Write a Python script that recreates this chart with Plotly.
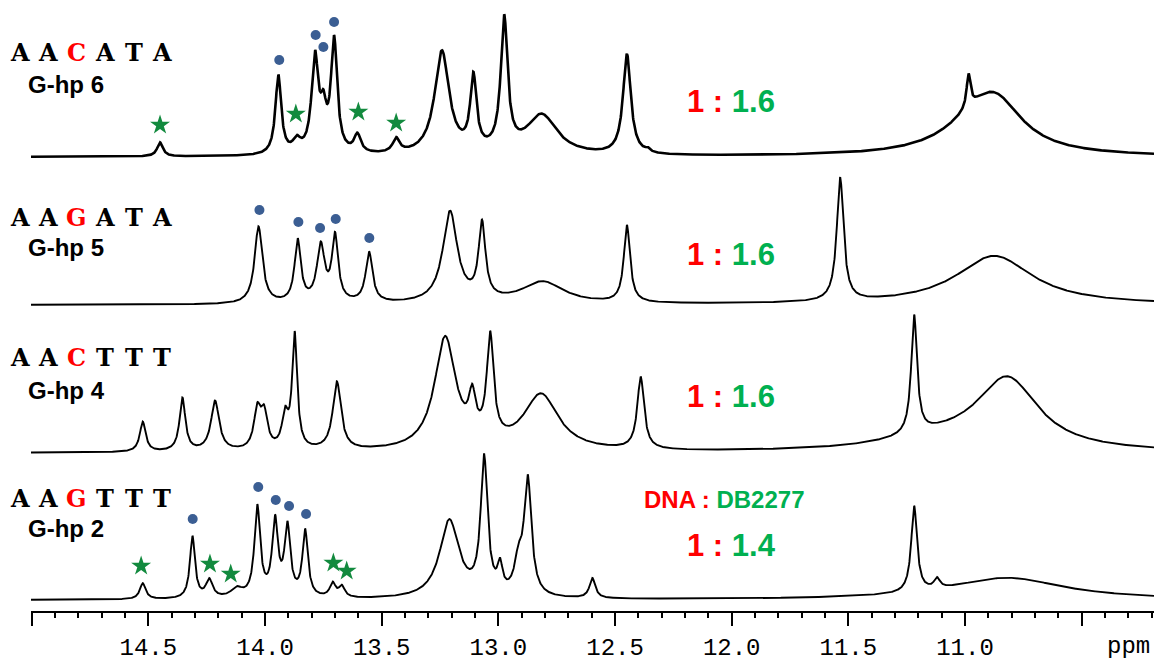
import numpy as np
import plotly.graph_objects as go

# ---------------- data ----------------
sample_names = ["G-hp 6", "G-hp 5", "G-hp 4", "G-hp 2"]
sequences = ["AACATA", "AAGATA", "AACTTT", "AAGTTT"]
site_index = 2
ratio_dna = "1"
ratio_ligand = ["1.6", "1.6", "1.6", "1.4"]
ppm_ticks = [15.0, 14.5, 14.0, 13.5, 13.0, 12.5, 12.0, 11.5, 11.0, 10.5]
ppm_tick_text = ["", "14.5", "14.0", "13.5", "13.0", "12.5", "12.0", "11.5", "11.0", ""]

# peak tables: position (ppm), height (a.u.), line width FWHM (ppm)
ghp6_ppm = [14.450, 13.943, 13.864, 13.786, 13.750, 13.704, 13.604, 13.438, 13.242, 13.107,
            12.975, 12.814, 12.449, 12.360, 10.930, 10.860, 10.985]
ghp6_height = [14, 79, 12, 95, 35, 112, 18, 14, 103, 72, 131, 40, 100, 3, 38, 30, 33]
ghp6_width = [0.030, 0.030, 0.040, 0.035, 0.030, 0.032, 0.035, 0.035, 0.075, 0.032,
              0.035, 0.160, 0.040, 0.020, 0.360, 0.260, 0.020]

ghp5_ppm = [14.028, 13.860, 13.761, 13.700, 13.554, 13.207, 13.070, 12.810, 12.449, 11.535, 10.875]
ghp5_height = [77, 62, 56, 65, 50, 91, 75, 22, 77, 123, 49]
ghp5_width = [0.040, 0.032, 0.040, 0.032, 0.035, 0.075, 0.035, 0.220, 0.032, 0.035, 0.400]

ghp4_ppm = [14.524, 14.354, 14.214, 14.033, 14.004, 13.914, 13.873, 13.692, 13.228, 13.112,
            13.035, 12.817, 12.390, 11.218, 10.818, 11.100]
ghp4_height = [30, 53, 50, 38, 34, 32, 114, 68, 112, 38, 103, 56, 72, 118, 70, 12]
ghp4_width = [0.030, 0.030, 0.042, 0.035, 0.035, 0.032, 0.026, 0.042, 0.110, 0.035,
              0.035, 0.180, 0.035, 0.030, 0.320, 0.600]

ghp2_ppm = [14.524, 14.311, 14.239, 14.121, 14.033, 13.957, 13.904, 13.828, 13.710, 13.671,
            13.210, 13.061, 12.993, 12.914, 12.874, 12.597, 11.218, 11.120, 10.820]
ghp2_height = [16, 62, 18, 9, 90, 75, 69, 66, 14, 11, 78, 135, 25, 30, 116, 20, 86, 10, 22]
ghp2_width = [0.030, 0.026, 0.035, 0.060, 0.030, 0.030, 0.030, 0.028, 0.030, 0.030,
              0.100, 0.035, 0.025, 0.040, 0.038, 0.030, 0.030, 0.030, 0.600]

# assigned imino peaks: blue dots / green stars (ppm, height above baseline)
ghp6_dot_ppm = [13.939, 13.783, 13.750, 13.704]
ghp6_dot_h = [97, 122, 110, 135]
ghp6_star_ppm = [14.450, 13.868, 13.600, 13.438]
ghp6_star_h = [32, 43, 45, 34]
ghp5_dot_ppm = [14.024, 13.857, 13.764, 13.697, 13.553]
ghp5_dot_h = [95, 83, 77, 86, 67]
ghp5_star_ppm = []
ghp5_star_h = []
ghp4_dot_ppm = []
ghp4_dot_h = []
ghp4_star_ppm = []
ghp4_star_h = []
ghp2_dot_ppm = [14.310, 14.029, 13.954, 13.897, 13.824]
ghp2_dot_h = [81, 113, 100, 94, 86]
ghp2_star_ppm = [14.531, 14.236, 14.147, 13.707, 13.650]
ghp2_star_h = [34, 36, 26, 37, 29]

spectra = [
    (ghp6_ppm, ghp6_height, ghp6_width, ghp6_dot_ppm, ghp6_dot_h, ghp6_star_ppm, ghp6_star_h),
    (ghp5_ppm, ghp5_height, ghp5_width, ghp5_dot_ppm, ghp5_dot_h, ghp5_star_ppm, ghp5_star_h),
    (ghp4_ppm, ghp4_height, ghp4_width, ghp4_dot_ppm, ghp4_dot_h, ghp4_star_ppm, ghp4_star_h),
    (ghp2_ppm, ghp2_height, ghp2_width, ghp2_dot_ppm, ghp2_dot_h, ghp2_star_ppm, ghp2_star_h),
]

# ---------------- layout constants ----------------
W, H = 1157, 662
ML, MR, MT, MB = 31, 3, 0, 51
PW, PH = W - ML - MR, H - MT - MB
X_RANGE = [15.003, 10.19]
baselines = [454, 306, 158, 11]
line_widths = [2.6, 1.9, 1.9, 1.9]
RED, GREEN = "#ff0000", "#00b050"
DOT, STAR = "#3b5e93", "#128a3e"

ppm_axis = np.linspace(X_RANGE[0], X_RANGE[1], 4000)


def lorentz_sum(pos, hgt, wid):
    y = np.zeros_like(ppm_axis)
    for p, h, w in zip(pos, hgt, wid):
        y += h / (1.0 + ((ppm_axis - p) / (w / 2.0)) ** 2)
    return y


fig = go.Figure()
for i, (pos, hgt, wid, dp, dh, sp, sh) in enumerate(spectra):
    base = baselines[i]
    fig.add_trace(go.Scatter(x=ppm_axis, y=base + lorentz_sum(pos, hgt, wid), mode="lines",
                             line=dict(color="black", width=line_widths[i]),
                             hoverinfo="skip", showlegend=False))
    if dp:
        fig.add_trace(go.Scatter(x=dp, y=[base + v for v in dh], mode="markers",
                                 marker=dict(symbol="circle", size=10, color=DOT),
                                 hoverinfo="skip", showlegend=False))
    if sp:
        fig.add_trace(go.Scatter(x=sp, y=[base + v for v in sh], mode="markers",
                                 marker=dict(symbol="star", size=15, color=STAR),
                                 hoverinfo="skip", showlegend=False))


def px_to_paper(px, py):
    return (px - ML) / PW, (MT + PH - py) / PH


annotations = []


def add_text(text, px, py, size, color="black", family="Liberation Sans", xanchor="center"):
    x, y = px_to_paper(px, py)
    annotations.append(dict(text=text, x=x, y=y, xref="paper", yref="paper",
                            xanchor=xanchor, yanchor="middle", showarrow=False,
                            font=dict(size=size, color=color, family=family)))


letter_y = [52, 217.5, 358, 498]
name_y = [84, 247.5, 390.5, 528]
ratio_y = [101, 254, 396, 545.5]
for i, seq in enumerate(sequences):
    for j, ch in enumerate(seq):
        add_text("<b>%s</b>" % ch, 20 + 28.4 * j, letter_y[i], 24,
                 color=RED if j == site_index else "black", family="DejaVu Serif")
    add_text("<b>%s</b>" % sample_names[i], 26, name_y[i], 24, xanchor="left")
    add_text("<b><span style='color:%s'>%s :</span> <span style='color:%s'>%s</span></b>"
             % (RED, ratio_dna, GREEN, ratio_ligand[i]), 731, ratio_y[i], 31)

add_text("<b><span style='color:%s'>DNA :</span> <span style='color:%s'>DB2277</span></b>"
         % (RED, GREEN), 724, 499, 24)
add_text("ppm", 1128, 646, 24, family="Liberation Mono")

fig.update_layout(
    width=W, height=H, template="none",
    margin=dict(l=ML, r=MR, t=MT, b=MB, pad=0),
    paper_bgcolor="white", plot_bgcolor="white",
    annotations=annotations, showlegend=False,
    xaxis=dict(range=X_RANGE, showgrid=False, zeroline=False, showline=True,
               linecolor="black", linewidth=2, ticks="outside", ticklen=13, tickwidth=2,
               tickcolor="black", tickvals=ppm_ticks, ticktext=ppm_tick_text,
               tickfont=dict(family="Liberation Mono", size=24, color="black"),
               minor=dict(tick0=15.0, dtick=0.1, ticks="outside", ticklen=5, tickwidth=2,
                          tickcolor="black", showgrid=False),
               fixedrange=True),
    yaxis=dict(range=[0, PH], visible=False, fixedrange=True),
)

fig.write_html("out.html", config={"displayModeBar": False},
               post_script="document.body.style.margin='0';"
                           "document.body.style.padding='0';"
                           "document.body.style.overflow='hidden';")
